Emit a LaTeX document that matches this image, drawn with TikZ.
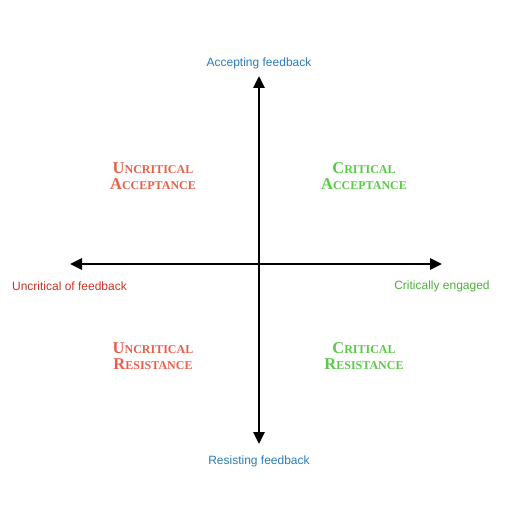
\documentclass[tikz,border=0pt]{standalone}
\usepackage{fontspec}
\setmainfont{Liberation Serif}
\newfontfamily\axisfont{Liberation Sans}
\usetikzlibrary{arrows.meta}
\definecolor{qred}{HTML}{E8604C}
\definecolor{qgreen}{HTML}{5CC84A}
\definecolor{ared}{HTML}{CC3322}
\definecolor{agreen}{HTML}{4CAF3A}
\definecolor{ablue}{HTML}{2B7BB9}
\newcommand{\fsc}[2]{{\fontsize{16.5}{16}\selectfont #1}{\fontsize{12}{16}\selectfont #2}}
\tikzset{
  axis/.style={line width=2.8pt, {Triangle[length=12pt,width=11pt]}-{Triangle[length=12pt,width=11pt]}},
  axislabel/.style={font=\axisfont\fontsize{12}{13}\selectfont, inner sep=0pt},
  quad/.style={font=\bfseries\fontsize{16.5}{16}\selectfont, align=center, inner sep=0pt},
}
\begin{document}
\begin{tikzpicture}[x=1pt,y=-1pt]
\useasboundingbox (0,0) rectangle (512,511);
\coordinate (L) at (70,264);
\coordinate (R) at (442,264);
\coordinate (T) at (259,76);
\coordinate (B) at (259,444);
\draw[axis] (L) -- (R);
\draw[axis] (B) -- (T);
\node[axislabel, text=ablue] (acc) at (259,63) {Accepting feedback};
\node[axislabel, text=ablue] (res) at (259,461) {Resisting feedback};
\node[axislabel, text=ared] (unc) at (69.5,286) {Uncritical of feedback};
\node[axislabel, text=agreen] (cri) at (442,286) {Critically engaged};
\node[quad, text=qred] (ua) at (153,176) {\fsc{U}{NCRITICAL}\\\fsc{A}{CCEPTANCE}};
\node[quad, text=qgreen] (ca) at (364,176) {\fsc{C}{RITICAL}\\\fsc{A}{CCEPTANCE}};
\node[quad, text=qred] (ur) at (153,356) {\fsc{U}{NCRITICAL}\\\fsc{R}{ESISTANCE}};
\node[quad, text=qgreen] (cr) at (364,356) {\fsc{C}{RITICAL}\\\fsc{R}{ESISTANCE}};
\end{tikzpicture}
\end{document}
